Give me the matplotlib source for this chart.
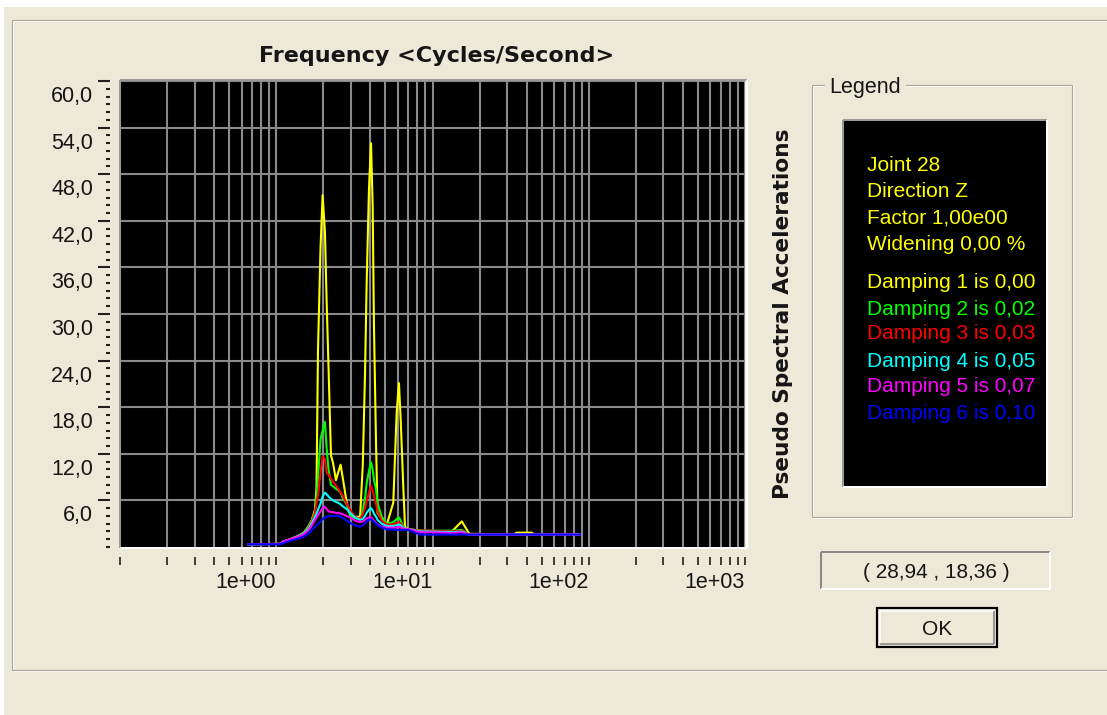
import matplotlib.pyplot as plt
from matplotlib.lines import Line2D
from matplotlib.patches import Rectangle
from matplotlib.transforms import ScaledTranslation
from matplotlib.ticker import NullFormatter

plt.rcParams['font.family'] = ['Liberation Sans', 'DejaVu Sans']

W, H = 1107, 715
BG = '#ECE9D8'

# frequency points (Hz) and pseudo spectral accelerations per damping
freq = [0.66, 1.06, 1.11, 1.23, 1.35, 1.49, 1.60, 1.69, 1.77, 1.81,
        1.85, 1.92, 1.98, 2.05, 2.10, 2.16, 2.24, 2.31, 2.41, 2.49,
        2.58, 2.68, 2.82, 2.97, 3.19, 3.44, 3.58, 3.70, 3.79, 3.92,
        4.04, 4.14, 4.22, 4.35, 4.45, 4.73, 5.09, 5.61, 5.90, 6.10,
        6.26, 6.50, 6.67, 7.00, 8.32, 9.64, 13.3, 15.4, 17.2, 33.0,
        34.6, 43.1, 45.0, 88.0]

psa_000 = [0.35, 0.40, 0.70, 1.00, 1.35, 1.80, 2.60, 3.50, 4.80, 7.70,
           25.4, 38.5, 45.3, 40.5, 31.8, 23.2, 11.8, 10.8, 8.6, 9.6,
           10.6, 8.6, 5.8, 4.1, 3.9, 3.9, 10.6, 22.4, 34.1, 46.0,
           52.0, 44.0, 28.6, 13.4, 4.4, 3.6, 2.8, 5.7, 17.4, 21.1,
           16.3, 7.8, 2.6, 2.3, 2.1, 2.0, 2.0, 3.3, 1.7, 1.6,
           1.85, 1.85, 1.6, 1.6]
psa_002 = [0.35, 0.40, 0.70, 1.00, 1.30, 1.75, 2.50, 3.40, 4.60, 6.50,
           9.0, 13.9, 15.0, 16.1, 12.8, 10.0, 8.0, 7.8, 7.5, 7.3,
           7.0, 6.2, 5.5, 4.1, 3.7, 3.6, 4.6, 6.3, 8.2, 9.8,
           10.9, 10.0, 8.7, 7.4, 5.6, 3.9, 3.0, 3.2, 3.6, 3.8,
           3.4, 2.6, 2.4, 2.3, 2.1, 2.1, 2.1, 2.2, 1.6, 1.6,
           1.6, 1.6, 1.6, 1.6]
psa_003 = [0.35, 0.40, 0.70, 1.00, 1.30, 1.70, 2.40, 3.30, 4.40, 5.60,
           6.7, 9.5, 11.7, 11.3, 9.6, 9.3, 8.8, 8.4, 7.9, 7.5,
           7.0, 6.5, 5.6, 4.8, 3.9, 3.6, 4.2, 5.0, 5.9, 7.0,
           7.9, 7.3, 6.6, 5.6, 4.6, 3.4, 2.9, 2.9, 3.1, 3.2,
           3.0, 2.6, 2.4, 2.3, 2.1, 2.1, 2.0, 2.1, 1.6, 1.6,
           1.6, 1.6, 1.6, 1.6]
psa_005 = [0.35, 0.40, 0.70, 1.00, 1.30, 1.70, 2.30, 3.10, 3.90, 4.30,
           4.8, 5.6, 6.5, 7.0, 6.8, 6.5, 6.2, 6.0, 5.8, 5.7,
           5.5, 5.2, 4.9, 4.4, 3.8, 3.5, 3.6, 4.0, 4.4, 4.8,
           5.0, 4.7, 4.3, 3.9, 3.5, 3.0, 2.7, 2.7, 2.8, 2.9,
           2.8, 2.5, 2.4, 2.3, 2.0, 2.0, 1.9, 2.0, 1.6, 1.6,
           1.6, 1.6, 1.6, 1.6]
psa_007 = [0.35, 0.40, 0.70, 1.00, 1.25, 1.60, 2.10, 2.80, 3.50, 3.80,
           4.1, 4.6, 5.0, 5.2, 4.9, 4.6, 4.5, 4.5, 4.4, 4.4,
           4.3, 4.2, 4.0, 3.8, 3.4, 3.2, 3.3, 3.5, 3.7, 3.8,
           3.8, 3.6, 3.4, 3.1, 2.9, 2.6, 2.5, 2.5, 2.5, 2.6,
           2.5, 2.4, 2.3, 2.3, 1.9, 1.9, 1.8, 1.9, 1.6, 1.6,
           1.6, 1.6, 1.6, 1.6]
psa_010 = [0.35, 0.35, 0.50, 0.80, 1.00, 1.30, 1.70, 2.20, 2.60, 2.80,
           3.0, 3.3, 3.6, 3.8, 3.9, 4.0, 4.0, 4.0, 4.0, 4.0,
           3.9, 3.7, 3.4, 3.1, 2.8, 2.6, 2.8, 3.0, 3.3, 3.5,
           3.6, 3.4, 3.2, 3.0, 2.8, 2.5, 2.3, 2.2, 2.2, 2.2,
           2.2, 2.2, 2.2, 2.2, 1.6, 1.6, 1.6, 1.6, 1.6, 1.6,
           1.6, 1.6, 1.6, 1.6]

series = [psa_000, psa_002, psa_003, psa_005, psa_007, psa_010]
damping = ["0,00", "0,02", "0,03", "0,05", "0,07", "0,10"]
colors = ['#FFFF00', '#00FF00', '#FF0000', '#00FFFF', '#FF00FF', '#0000FF']

x_major = [0.1, 1, 10, 100, 1000]
x_labels = ["", "1e+00", "1e+01", "1e+02", "1e+03"]
y_ticks = [6, 12, 18, 24, 30, 36, 42, 48, 54, 60]
info_lines = ["Joint 28", "Direction Z", "Factor 1,00e00", "Widening 0,00 %"]
cursor_text = "( 28,94 , 18,36 )"


def fx(x):
    return x / W


def fy(y):
    return 1 - y / H


fig = plt.figure(figsize=(W / 100, H / 100), dpi=100, facecolor=BG)


def seg(x0, y0, x1, y1, color, px=1.0, z=3):
    fig.add_artist(Line2D([fx(x0), fx(x1)], [fy(y0), fy(y1)], color=color,
                          lw=px * 0.72, transform=fig.transFigure,
                          solid_capstyle='butt', zorder=z))


def rect(x0, y0, x1, y1, face, edge='none', px=1.0, z=1):
    fig.add_artist(Rectangle((fx(x0), fy(y1)), fx(x1) - fx(x0), fy(y0) - fy(y1),
                             transform=fig.transFigure, facecolor=face,
                             edgecolor=edge, lw=px * 0.72, zorder=z))


def sunken(x0, y0, x1, y1, dark='#9a9a9a', light='#FFFFFF', px=2):
    seg(x0, y0, x1, y0, dark, px)
    seg(x0, y0, x0, y1, dark, px)
    seg(x0, y1, x1, y1, light, px)
    seg(x1, y0, x1, y1, light, px)


def etched(x0, y0, x1, y1):
    for d, c in ((1.2, '#FFFFFF'), (0, '#ACA899')):
        seg(x0 + d, y0 + d, x1 + d, y0 + d, c, 1.2)
        seg(x0 + d, y1 + d, x1 + d, y1 + d, c, 1.2)
        seg(x0 + d, y0 + d, x0 + d, y1 + d, c, 1.2)
        seg(x1 + d, y0 + d, x1 + d, y1 + d, c, 1.2)


# window edges and frame
rect(0, 0, W, 7, 'white')
rect(0, 0, 4, H, 'white')
etched(12, 20, 1112, 670)

# chart
ax = fig.add_axes([fx(120), fy(547), fx(745) - fx(120), fy(81) - fy(547)])
ax.set_facecolor('black')
for s in ax.spines.values():
    s.set_visible(False)
ax.spines['left'].set_position(('outward', 7.2))
ax.spines['bottom'].set_position(('outward', 7.2))

for vals, c in zip(series, colors):
    ax.plot(freq, vals, color=c, lw=1.5, zorder=3)

ax.set_xscale('log')
ax.set_xlim(0.1, 1000)
ax.set_ylim(0, 60)
x_minor = [k * 10.0 ** e for e in range(-1, 3) for k in range(2, 10)]
y_minor = [v for v in range(61) if v == 0 or v % 6]
ax.set_xticks(x_major, x_labels)
ax.set_xticks(x_minor, minor=True)
ax.xaxis.set_minor_formatter(NullFormatter())
ax.set_yticks(y_ticks, [f"{v:.1f}".replace('.', ',') for v in y_ticks])
ax.set_yticks(y_minor, minor=True)

ax.set_axisbelow(True)
ax.grid(True, which='both', axis='x', color='#8a8a8a', lw=1.5)
ax.grid(True, which='major', axis='y', color='#8a8a8a', lw=1.5)

ax.tick_params(axis='x', which='both', direction='out', length=5.8, width=1.2,
               color='#202020', pad=5, labelsize=15.5, labelcolor='#151515')
ax.tick_params(axis='y', which='major', direction='out', length=8.6, width=1.5,
               color='#202020', pad=3.6, labelsize=15.5, labelcolor='#151515')
ax.tick_params(axis='y', which='minor', direction='out', length=2.9, width=1.5,
               color='#202020')

for lab in ax.get_xticklabels():
    lab.set_horizontalalignment('right')
for lab in ax.get_yticklabels():
    lab.set_verticalalignment('top')
    lab.set_transform(lab.get_transform() +
                      ScaledTranslation(0, -5 / 100, fig.dpi_scale_trans))

sunken(119.5, 80, 746.5, 547.5)

fig.text(fx(436.5), fy(62.3), "Frequency <Cycles/Second>", ha='center',
         va='baseline', fontsize=16, fontweight='bold', family='DejaVu Sans',
         color='#151515')
fig.text(fx(783), fy(314), "Pseudo Spectral Accelerations", rotation=90,
         ha='center', va='center', fontsize=15.6, fontweight='bold',
         family='DejaVu Sans', color='#151515')

# legend group
etched(812, 85, 1072, 517)
rect(825, 76, 906, 94, BG, z=4)
fig.text(fx(829), fy(92.7), "Legend", ha='left', va='baseline', fontsize=15.5,
         color='#151515', zorder=5)
rect(843, 120, 1047, 487, 'black', z=2)
sunken(843, 120, 1047, 487)

baselines = [170.7, 196.7, 223.3, 250.0, 288.3, 315.0, 339.3, 366.7, 391.7, 419.3]
for txt, yb in zip(info_lines, baselines[:4]):
    fig.text(fx(866.7), fy(yb), txt, ha='left', va='baseline', fontsize=15,
             color='#FFFF00', zorder=5)
for i, (d, c) in enumerate(zip(damping, colors)):
    fig.text(fx(866.7), fy(baselines[4 + i]), f"Damping {i + 1} is {d}",
             ha='left', va='baseline', fontsize=15, color=c, zorder=5)

# cursor readout
sunken(821, 552, 1050, 589, dark='#8a8a8a')
fig.text(fx(936.7), fy(578.3), cursor_text, ha='center', va='baseline',
         fontsize=15, color='#151515')

# OK button
rect(877, 608, 997, 647, BG, edge='black', px=2.2, z=2)
seg(880, 611, 994, 611, 'white', 1.5)
seg(880, 611, 880, 644, 'white', 1.5)
seg(880, 644, 994, 644, '#808080', 1.5)
seg(994, 611, 994, 644, '#808080', 1.5)
fig.text(fx(936.7), fy(634.8), "OK", ha='center', va='baseline', fontsize=15,
         color='#151515', zorder=5)

fig.savefig('out.png', dpi=100, facecolor=BG)
